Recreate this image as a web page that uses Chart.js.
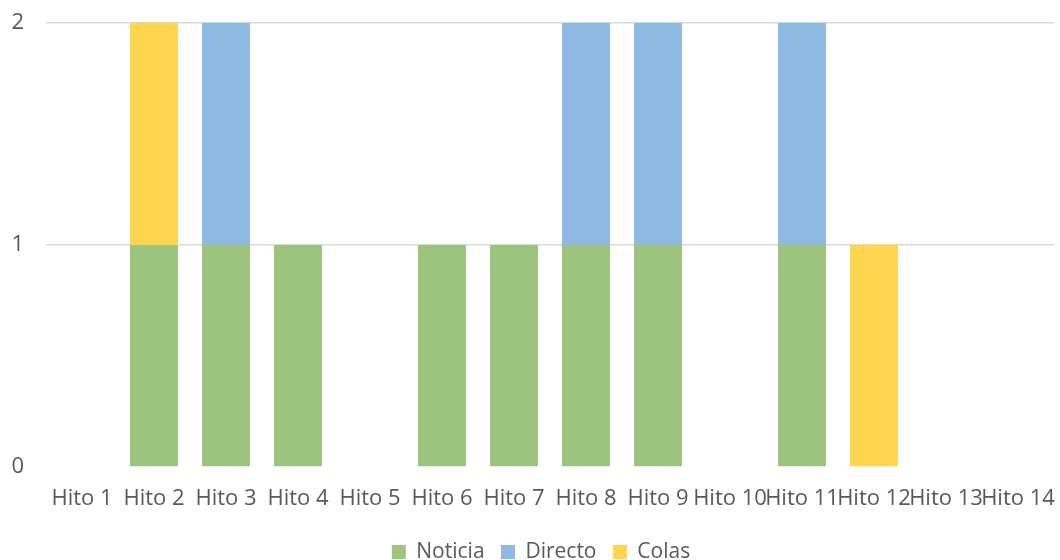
<!DOCTYPE html>
<html>
<head>
<meta charset="utf-8">
<script src="https://cdn.jsdelivr.net/npm/chart.js@4/dist/chart.umd.min.js"></script>
<style>
  html, body { margin: 0; padding: 0; background: #ffffff; }
  #wrap { width: 1060px; height: 560px; position: relative; }
</style>
</head>
<body>
<div id="wrap"><canvas id="c" width="1060" height="560"></canvas></div>
<script>
// Categories and stacked series
const categories = ['Hito 1', 'Hito 2', 'Hito 3', 'Hito 4', 'Hito 5', 'Hito 6', 'Hito 7',
                    'Hito 8', 'Hito 9', 'Hito 10', 'Hito 11', 'Hito 12', 'Hito 13', 'Hito 14'];
const noticia = [0, 1, 1, 1, 0, 1, 1, 1, 1, 0, 1, 0, 0, 0];
const directo = [0, 0, 1, 0, 0, 0, 0, 1, 1, 0, 1, 0, 0, 0];
const colas   = [0, 1, 0, 0, 0, 0, 0, 0, 0, 0, 0, 1, 0, 0];
const yTicks  = [0, 1, 2];

const FONT = '"Open Sans", "Noto Sans", sans-serif';
const TEXT = '#595959';
const FS = 22;
const LFS = 21;

// Nudges the legend row to sit lower and slightly right of centre
const legendShift = {
  id: 'legendShift',
  afterLayout(chart) {
    const lg = chart.legend;
    if (!lg) return;
    const dy = 552 - (lg.top + LFS / 2);
    const dx = 14;
    lg.top += dy; lg.bottom += dy;
    lg.left += dx; lg.right += dx;
  }
};

new Chart(document.getElementById('c'), {
  type: 'bar',
  data: {
    labels: categories,
    datasets: [
      { label: 'Noticia', data: noticia, backgroundColor: '#9dc47f' },
      { label: 'Directo', data: directo, backgroundColor: '#8eb9e2' },
      { label: 'Colas',   data: colas,   backgroundColor: '#ffd44f' }
    ]
  },
  options: {
    responsive: false,
    animation: false,
    devicePixelRatio: 1,
    layout: { padding: { top: 23, right: 6, bottom: 0, left: 0 } },
    datasets: {
      bar: { barPercentage: 0.667, categoryPercentage: 1, borderWidth: 0 }
    },
    scales: {
      x: {
        stacked: true,
        grid: { display: false, drawTicks: false },
        border: { display: false },
        ticks: {
          autoSkip: false, maxRotation: 0, minRotation: 0, padding: 19,
          color: TEXT, font: { family: FONT, size: FS }
        },
        afterFit(scale) {
          scale.height = 62;
          scale.paddingLeft = 0;
          scale.paddingRight = 0;
        }
      },
      y: {
        stacked: true,
        min: 0, max: 2,
        afterBuildTicks(scale) { scale.ticks = yTicks.map(v => ({ value: v })); },
        grid: {
          drawTicks: false,
          lineWidth: 1.5,
          color: ctx => (ctx.tick && ctx.tick.value === 0) ? 'rgba(0,0,0,0)' : '#d9d9d9'
        },
        border: { display: false },
        ticks: {
          padding: 22,
          color: TEXT, font: { family: FONT, size: FS }
        },
        afterFit(scale) {
          scale.width = 46;
          scale.paddingTop = 0;
          scale.paddingBottom = 0;
        }
      }
    },
    plugins: {
      tooltip: { enabled: false },
      legend: {
        position: 'bottom',
        labels: {
          boxWidth: 14, boxHeight: 14, padding: 0,
          color: TEXT, font: { family: FONT, size: LFS },
          generateLabels(chart) {
            const items = Chart.defaults.plugins.legend.labels.generateLabels(chart);
            // extra spacing between legend entries
            items.forEach((it, i) => {
              if (i < items.length - 1) it.text = it.text + '   ';
              it.lineWidth = 0;
            });
            return items;
          }
        }
      }
    }
  },
  plugins: [legendShift]
});
</script>
</body>
</html>
